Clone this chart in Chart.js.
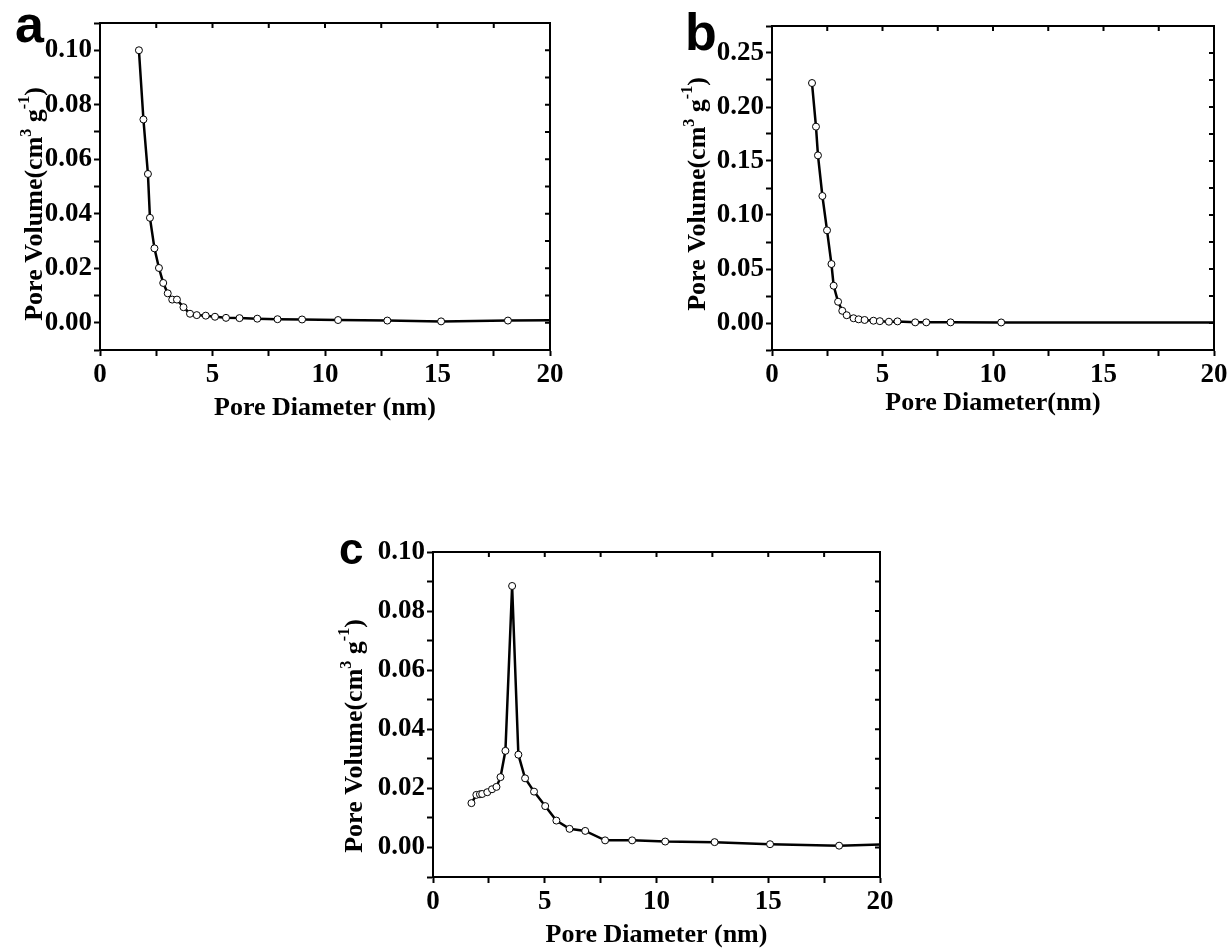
<!DOCTYPE html>
<html>
<head>
<meta charset="utf-8">
<script src="https://cdn.jsdelivr.net/npm/chart.js@4.4.1/dist/chart.umd.min.js"></script>
<style>
  body { margin: 0; background: #fff; }
  canvas { position: absolute; }
</style>
</head>
<body>
<canvas id="chartA" width="600" height="440" style="left:0;top:0"></canvas>
<canvas id="chartB" width="551" height="440" style="left:680px;top:0"></canvas>
<canvas id="chartC" width="600" height="431" style="left:330px;top:520px"></canvas>
<script>
// pore size distributions (last entry of each = line tail at the axis, no marker)
const diamA = [1.73, 1.93, 2.13, 2.22, 2.42, 2.62, 2.81, 3.01, 3.21, 3.42, 3.71, 4.00, 4.30, 4.70, 5.11, 5.60, 6.20, 6.99, 7.89, 8.98, 10.58, 12.77, 15.16, 18.13, 20];
const volA = [0.1000, 0.0746, 0.0546, 0.0385, 0.0273, 0.0201, 0.0146, 0.0108, 0.0085, 0.0085, 0.0057, 0.0033, 0.0028, 0.0026, 0.0022, 0.0018, 0.0017, 0.0015, 0.0013, 0.0012, 0.0010, 0.0008, 0.0005, 0.0008, 0.0009];

const diamB = [1.81, 1.99, 2.08, 2.28, 2.49, 2.69, 2.79, 2.99, 3.18, 3.38, 3.69, 3.92, 4.19, 4.59, 4.88, 5.29, 5.68, 6.48, 6.98, 8.08, 10.37, 20];
const volB = [0.2222, 0.1818, 0.1552, 0.1176, 0.0858, 0.0546, 0.0345, 0.0197, 0.0113, 0.0072, 0.0044, 0.0034, 0.0028, 0.0021, 0.0017, 0.0012, 0.0015, 0.0006, 0.0006, 0.0006, 0.0005, 0.0005];

const diamC = [1.72, 1.94, 2.10, 2.20, 2.43, 2.64, 2.84, 3.02, 3.24, 3.54, 3.82, 4.12, 4.52, 5.02, 5.52, 6.11, 6.81, 7.70, 8.91, 10.39, 12.60, 15.08, 18.17, 20];
const volC = [0.0150, 0.0178, 0.0180, 0.0181, 0.0187, 0.0197, 0.0205, 0.0238, 0.0327, 0.0885, 0.0314, 0.0234, 0.0189, 0.0140, 0.0091, 0.0063, 0.0056, 0.0024, 0.0024, 0.0020, 0.0018, 0.0011, 0.0006, 0.0010];

const xTicks = [0, 5, 10, 15, 20];

const SERIF = '"Liberation Serif", "Times New Roman", serif';
Chart.defaults.font.family = SERIF;
Chart.defaults.color = '#000';

// box on top/right with inward ticks, rotated y title with superscripts, panel letter
const framePlugin = {
  id: 'frame',
  afterDraw(chart, args, opts) {
    const { ctx, chartArea: a, scales: { x, y } } = chart;
    ctx.save();
    ctx.strokeStyle = '#000';
    ctx.lineWidth = 2;
    ctx.beginPath();
    ctx.moveTo(a.left - 1, a.top);
    ctx.lineTo(a.right, a.top);
    ctx.lineTo(a.right, a.bottom + 1);
    x.ticks.forEach(t => {
      const px = x.getPixelForValue(t.value);
      ctx.moveTo(px, a.top);
      ctx.lineTo(px, a.top + 5);
    });
    y.ticks.forEach(t => {
      const py = y.getPixelForValue(t.value);
      ctx.moveTo(a.right, py);
      ctx.lineTo(a.right - 5, py);
    });
    ctx.stroke();

    // y axis title
    const big = 'bold 26px ' + SERIF;
    const small = 'bold 16px ' + SERIF;
    const parts = [['Pore Volume(cm', big, 0], ['3', small, 11], [' g', big, 0], ['-1', small, 13], [')', big, 0]];
    ctx.translate(opts.titleX, opts.titleY);
    ctx.rotate(-Math.PI / 2);
    ctx.fillStyle = '#000';
    ctx.textBaseline = 'alphabetic';
    let total = 0;
    parts.forEach(p => { ctx.font = p[1]; total += ctx.measureText(p[0]).width; });
    let tx = -total / 2;
    parts.forEach(p => {
      ctx.font = p[1];
      ctx.fillText(p[0], tx, -p[2]);
      tx += ctx.measureText(p[0]).width;
    });
    ctx.setTransform(1, 0, 0, 1, 0, 0);

    // panel letter
    ctx.font = 'bold ' + opts.letterSize + 'px "Liberation Sans", Arial, sans-serif';
    ctx.fillText(opts.letter, opts.letterX, opts.letterY);
    ctx.restore();
  }
};

function makePanel(id, diam, vol, p) {
  const n = diam.length;
  const points = diam.map((d, i) => ({ x: d, y: vol[i] }));
  return new Chart(document.getElementById(id), {
    type: 'line',
    data: {
      datasets: [{
        data: points,
        borderColor: '#000',
        borderWidth: 2.5,
        tension: 0,
        pointRadius: ctx => (ctx.dataIndex === n - 1 ? 0 : 3.5),
        pointBackgroundColor: '#fff',
        pointBorderColor: '#000',
        pointBorderWidth: 1
      }]
    },
    options: {
      responsive: false,
      animation: false,
      layout: { padding: { top: p.top, right: p.right, left: 0, bottom: 0 } },
      plugins: {
        legend: { display: false },
        tooltip: { enabled: false },
        frame: p.frame
      },
      scales: {
        x: {
          type: 'linear',
          min: 0,
          max: 20,
          afterFit: s => { s.height = p.xHeight; },
          afterBuildTicks: s => {
            s.ticks = [];
            for (let v = 0; v <= 20; v += 2.5) s.ticks.push({ value: v });
          },
          ticks: {
            autoSkip: false,
            maxRotation: 0,
            padding: 3,
            font: { size: 27, weight: 'bold' },
            callback: v => (xTicks.includes(v) ? String(v) : '')
          },
          grid: { drawOnChartArea: false, drawTicks: true, tickLength: 6, tickWidth: 2, tickColor: '#000' },
          border: { width: 2, color: '#000' },
          title: {
            display: true,
            text: p.xTitle,
            font: { size: 26, weight: 'bold' },
            padding: { top: 0, bottom: p.xTitlePad }
          }
        },
        y: {
          min: p.yMin,
          max: p.yMax,
          afterFit: s => { s.width = p.yWidth; },
          ticks: {
            stepSize: p.yStep,
            autoSkip: false,
            padding: 2,
            font: { size: 27, weight: 'bold' },
            callback: p.yLabel
          },
          grid: { drawOnChartArea: false, drawTicks: true, tickLength: 6, tickWidth: 2, tickColor: '#000' },
          border: { width: 2, color: '#000' }
        }
      }
    },
    plugins: [framePlugin]
  });
}

const labelEvenHundredth = v => {
  const k = Math.round(v * 100);
  return k >= 0 && k % 2 === 0 ? (k / 100).toFixed(2) : '';
};

makePanel('chartA', diamA, volA, {
  top: 23, right: 50, yWidth: 100, xHeight: 90,
  yMin: -0.01, yMax: 0.11, yStep: 0.01, yLabel: labelEvenHundredth,
  xTitle: 'Pore Diameter (nm)', xTitlePad: 16,
  frame: { titleX: 42, titleY: 204, letter: 'a', letterX: 15, letterY: 42, letterSize: 52 }
});

makePanel('chartB', diamB, volB, {
  top: 26, right: 17, yWidth: 92, xHeight: 90,
  yMin: -0.025, yMax: 0.275, yStep: 0.025,
  yLabel: v => {
    const k = Math.round(v * 1000);
    return k >= 0 && k <= 250 && k % 50 === 0 ? (k / 1000).toFixed(2) : '';
  },
  xTitle: 'Pore Diameter(nm)', xTitlePad: 21,
  frame: { titleX: 25, titleY: 194, letter: 'b', letterX: 5, letterY: 50, letterSize: 52 }
});

makePanel('chartC', diamC, volC, {
  top: 32, right: 50, yWidth: 103, xHeight: 74,
  yMin: -0.01, yMax: 0.10, yStep: 0.01, yLabel: labelEvenHundredth,
  xTitle: 'Pore Diameter (nm)', xTitlePad: 0,
  frame: { titleX: 32, titleY: 216, letter: 'c', letterX: 9, letterY: 44, letterSize: 44 }
});
</script>
</body>
</html>
